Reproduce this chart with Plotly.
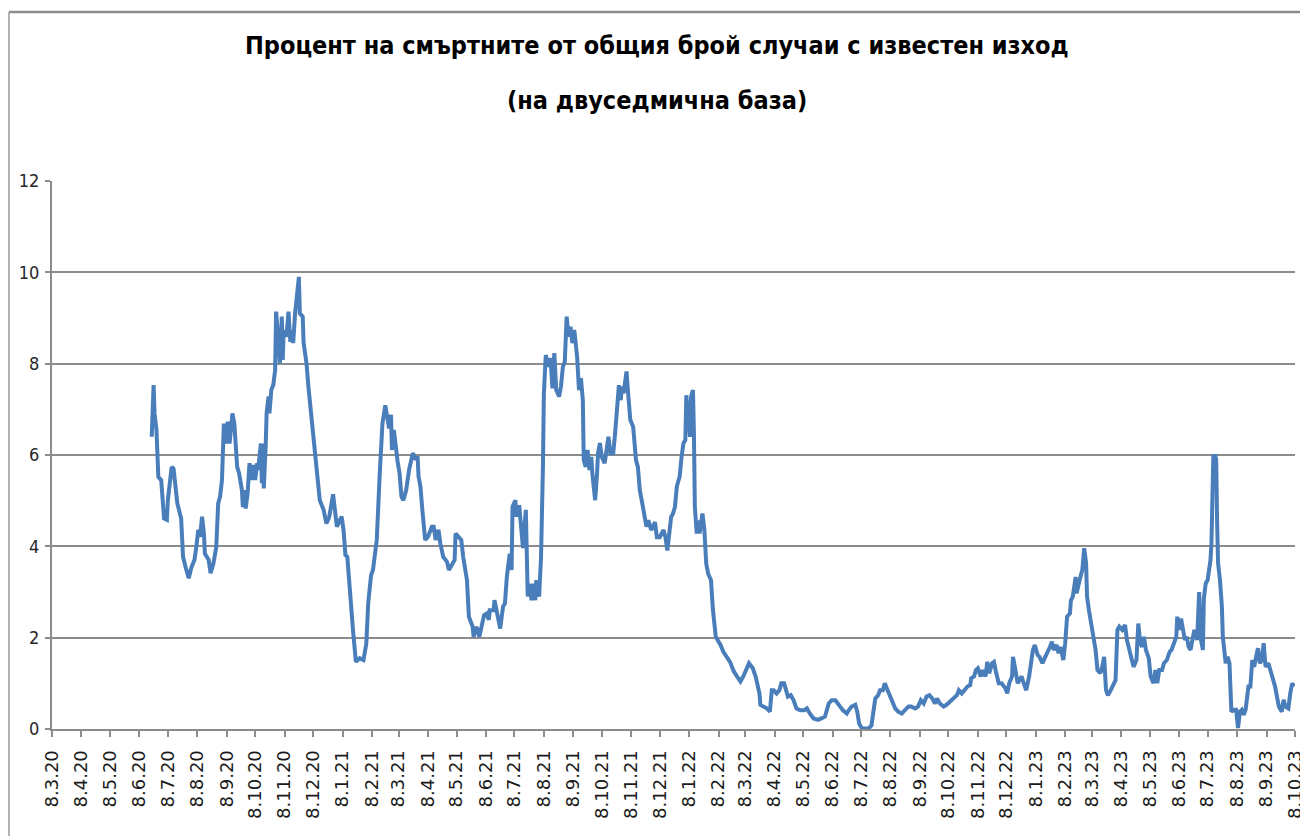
import pandas as pd
import plotly.graph_objects as go

title_line1 = "Процент на смъртните от общия брой случаи с известен изход"
title_line2 = "(на двуседмична база)"

axis_start = "2020-03-08"
axis_end = "2023-10-08"

# days since 8.3.2020 (date axis origin)
day_number = [
    105, 107, 108, 110, 112, 115, 118, 121, 122, 126,
    128, 131, 132, 136, 137, 138, 141, 144, 147, 150,
    152, 154, 156, 158, 160, 161, 165, 167, 170, 173,
    175, 177, 179, 180, 181, 183, 185, 187, 190, 192,
    195, 197, 200, 201, 202, 204, 206, 208, 210, 212,
    214, 216, 217, 220, 221, 222, 223, 225, 226, 228,
    229, 231, 233, 235, 236, 238, 240, 242, 243, 244,
    247, 249, 251, 253, 254, 256, 258, 260, 261, 264,
    265, 268, 270, 273, 277, 279, 282, 286, 289, 292,
    295, 296, 300, 305, 307, 309, 311, 313, 316, 317,
    320, 324, 328, 331, 333, 336, 338, 342, 345, 346,
    348, 351, 353, 355, 357, 358, 360, 362, 364, 366,
    368, 370, 373, 376, 380, 383, 385, 386, 388, 390,
    393, 396, 400, 402, 404, 407, 409, 412, 416, 418,
    422, 424, 425, 428, 431, 433, 437, 439, 443, 444,
    447, 450, 452, 455, 458, 460, 461, 465, 466, 469,
    472, 475, 477, 479, 482, 484, 485, 488, 489, 492,
    494, 496, 497, 499, 501, 503, 505, 507, 509, 510,
    513, 515, 517, 518, 520, 523, 525, 527, 529, 531,
    534, 536, 538, 540, 542, 544, 546, 548, 550, 553,
    555, 557, 559, 560, 562, 564, 566, 568, 569, 572,
    574, 575, 577, 579, 582, 584, 586, 588, 591, 593,
    595, 597, 599, 600, 602, 605, 607, 609, 612, 615,
    617, 619, 621, 624, 626, 628, 631, 633, 635, 637,
    640, 644, 646, 648, 650, 652, 654, 656, 658, 661,
    663, 665, 667, 668, 670, 672, 673, 675, 676, 677,
    679, 681, 682, 685, 687, 689, 691, 694, 696, 699,
    702, 704, 707, 711, 714, 718, 721, 725, 728, 732,
    734, 738, 741, 745, 746, 749, 753, 756, 758, 760,
    763, 766, 768, 771, 773, 775, 778, 781, 784, 788,
    792, 795, 798, 802, 807, 811, 814, 818, 821, 825,
    827, 830, 833, 837, 839, 842, 846, 848, 850, 853,
    856, 860, 863, 865, 867, 870, 872, 875, 877, 880,
    882, 885, 888, 891, 895, 898, 902, 905, 909, 912,
    915, 918, 921, 924, 927, 930, 932, 935, 939, 942,
    946, 949, 953, 955, 958, 961, 964, 967, 968, 971,
    973, 975, 978, 980, 983, 985, 987, 990, 992, 994,
    997, 1000, 1004, 1006, 1008, 1011, 1012, 1014, 1017, 1019,
    1021, 1024, 1026, 1029, 1031, 1033, 1035, 1038, 1040, 1043,
    1046, 1048, 1051, 1053, 1055, 1058, 1060, 1062, 1065, 1067,
    1069, 1072, 1073, 1075, 1078, 1079, 1081, 1083, 1085, 1087,
    1089, 1090, 1092, 1095, 1097, 1099, 1101, 1104, 1106, 1108,
    1110, 1112, 1115, 1118, 1120, 1122, 1124, 1127, 1130, 1132,
    1134, 1137, 1139, 1142, 1144, 1146, 1148, 1150, 1152, 1155,
    1157, 1160, 1162, 1164, 1166, 1169, 1171, 1174, 1177, 1179,
    1182, 1184, 1185, 1187, 1189, 1191, 1193, 1195, 1197, 1199,
    1201, 1203, 1206, 1208, 1210, 1212, 1213, 1215, 1217, 1220,
    1221, 1222, 1223, 1225, 1226, 1227, 1228, 1230, 1232, 1233,
    1236, 1238, 1240, 1242, 1245, 1247, 1249, 1251, 1253, 1255,
    1257, 1260, 1262, 1264, 1266, 1268, 1270, 1272, 1274, 1276,
    1278, 1281, 1283, 1285, 1288, 1290, 1292, 1295, 1297, 1299,
    1302, 1304, 1306, 1308,
]

death_pct = [
    6.40, 7.53, 6.91, 6.55, 5.52, 5.45, 4.61, 4.58, 5.01, 5.74,
    5.70, 5.16, 4.94, 4.61, 4.28, 3.77, 3.52, 3.30, 3.55, 3.70,
    3.99, 4.36, 4.21, 4.65, 4.28, 3.84, 3.70, 3.41, 3.63, 3.99,
    4.94, 5.09, 5.45, 6.03, 6.69, 6.25, 6.73, 6.25, 6.91, 6.69,
    5.74, 5.60, 5.23, 4.86, 5.23, 4.83, 5.16, 5.82, 5.45, 5.78,
    5.45, 5.82, 5.67, 6.25, 5.38, 6.25, 5.27, 6.18, 6.91, 7.28,
    6.91, 7.43, 7.53, 7.86, 9.14, 8.60, 8.01, 9.03, 8.08, 8.73,
    8.59, 9.14, 8.48, 8.73, 8.45, 9.10, 9.61, 9.90, 9.10, 9.03,
    8.45, 8.01, 7.50, 6.91, 6.18, 5.67, 5.01, 4.80, 4.50, 4.65,
    5.09, 5.14, 4.43, 4.65, 4.36, 3.81, 3.77, 3.12, 2.31, 2.16,
    1.47, 1.55, 1.51, 1.87, 2.75, 3.37, 3.48, 4.14, 5.53, 5.82,
    6.69, 7.09, 6.77, 6.58, 6.88, 6.11, 6.55, 6.11, 5.85, 5.60,
    5.09, 5.01, 5.23, 5.67, 6.04, 5.90, 5.97, 5.53, 5.31, 4.80,
    4.14, 4.21, 4.43, 4.43, 4.14, 4.36, 4.06, 3.77, 3.66, 3.48,
    3.63, 3.70, 4.28, 4.21, 4.14, 3.77, 3.26, 2.46, 2.24, 2.02,
    2.24, 2.02, 2.24, 2.49, 2.53, 2.39, 2.60, 2.60, 2.82, 2.53,
    2.20, 2.68, 2.75, 3.33, 3.84, 3.48, 4.87, 5.01, 4.65, 4.90,
    4.36, 3.96, 4.28, 4.80, 2.90, 3.18, 2.82, 3.18, 2.82, 3.26,
    2.90, 3.77, 5.74, 7.35, 8.19, 7.93, 8.12, 7.46, 8.23, 7.42,
    7.28, 7.50, 7.93, 8.04, 9.03, 8.59, 8.81, 8.45, 8.74, 8.15,
    7.42, 7.68, 7.20, 5.89, 5.74, 6.11, 5.67, 5.96, 5.60, 5.01,
    5.60, 6.04, 6.26, 5.96, 5.82, 6.18, 6.40, 6.04, 6.04, 6.47,
    7.06, 7.53, 7.20, 7.50, 7.35, 7.83, 7.28, 6.77, 6.62, 5.89,
    5.74, 5.23, 5.01, 4.72, 4.43, 4.57, 4.36, 4.43, 4.53, 4.20,
    4.20, 4.36, 4.20, 3.91, 4.28, 4.64, 4.72, 4.86, 5.31, 5.53,
    5.96, 6.26, 6.33, 7.31, 6.84, 6.40, 7.28, 7.42, 6.47, 4.86,
    4.28, 4.57, 4.28, 4.72, 4.36, 3.62, 3.40, 3.26, 2.61, 2.02,
    1.91, 1.84, 1.69, 1.58, 1.47, 1.26, 1.15, 1.04, 1.15, 1.33,
    1.44, 1.33, 1.15, 0.78, 0.53, 0.49, 0.45, 0.38, 0.85, 0.85,
    0.78, 0.85, 1.00, 1.00, 0.85, 0.71, 0.74, 0.63, 0.45, 0.41,
    0.41, 0.45, 0.34, 0.23, 0.20, 0.23, 0.27, 0.56, 0.63, 0.63,
    0.56, 0.49, 0.41, 0.34, 0.41, 0.49, 0.53, 0.38, 0.12, 0.01,
    0.01, 0.01, 0.08, 0.34, 0.67, 0.74, 0.85, 0.85, 1.00, 0.85,
    0.74, 0.60, 0.45, 0.38, 0.34, 0.41, 0.49, 0.49, 0.45, 0.49,
    0.63, 0.56, 0.71, 0.74, 0.67, 0.56, 0.67, 0.56, 0.49, 0.53,
    0.60, 0.67, 0.74, 0.85, 0.78, 0.85, 0.93, 0.96, 1.11, 1.15,
    1.29, 1.33, 1.15, 1.29, 1.15, 1.47, 1.22, 1.44, 1.47, 1.26,
    1.00, 1.00, 0.89, 0.78, 1.00, 1.15, 1.58, 1.36, 1.00, 1.07,
    1.15, 0.96, 0.85, 1.15, 1.44, 1.73, 1.84, 1.62, 1.58, 1.44,
    1.58, 1.66, 1.80, 1.91, 1.73, 1.84, 1.66, 1.80, 1.51, 1.88,
    2.46, 2.53, 2.82, 2.90, 3.33, 2.97, 3.19, 3.33, 3.48, 3.96,
    3.63, 2.90, 2.60, 2.24, 2.09, 1.73, 1.29, 1.22, 1.36, 1.58,
    0.85, 0.74, 0.85, 0.96, 1.07, 2.17, 2.24, 2.17, 2.28, 1.95,
    1.80, 1.55, 1.36, 1.51, 2.31, 1.88, 1.80, 2.02, 1.73, 1.55,
    1.15, 1.00, 1.29, 1.00, 1.29, 1.29, 1.44, 1.51, 1.69, 1.73,
    1.88, 2.02, 2.46, 2.17, 2.42, 2.17, 1.95, 2.02, 1.80, 1.73,
    2.02, 2.17, 1.95, 3.00, 1.95, 1.73, 2.86, 3.19, 3.26, 3.70,
    4.07, 5.00, 5.98, 5.98, 5.90, 4.50, 3.63, 3.26, 2.68, 2.02,
    1.44, 1.58, 1.44, 0.38, 0.42, 0.42, 0.02, 0.38, 0.42, 0.31,
    0.42, 0.93, 0.93, 1.51, 1.36, 1.58, 1.77, 1.44, 1.51, 1.88,
    1.36, 1.44, 1.26, 1.15, 0.93, 0.64, 0.49, 0.38, 0.64, 0.49,
    0.45, 0.78, 1.00, 0.93,
]

tick_dates = pd.date_range(axis_start, axis_end, freq=pd.DateOffset(months=1))
tick_labels = [f"{d.day}.{d.month}.{d.year % 100:02d}" for d in tick_dates]

dates = pd.Timestamp(axis_start) + pd.to_timedelta(day_number, unit="D")

GRID = "#8c8c8c"
LINE_BLUE = "#4a7ebb"
NARROW = "Liberation Sans Narrow, DejaVu Sans Condensed, DejaVu Sans"

fig = go.Figure()
fig.add_trace(go.Scatter(
    x=dates, y=death_pct, mode="lines",
    line=dict(color=LINE_BLUE, width=4),
    hoverinfo="x+y", showlegend=False,
))

# the page body adds an 8px offset, so the figure is 8px smaller than the window
fig.update_layout(
    width=1300, height=828, autosize=False,
    paper_bgcolor="white", plot_bgcolor="white",
    margin=dict(l=44, r=13, t=173, b=107, pad=0),
    xaxis=dict(
        type="date", range=[axis_start, axis_end], automargin=False,
        tickmode="array", tickvals=tick_dates, ticktext=tick_labels,
        tickangle=-90, ticks="outside", ticklen=6, tickcolor=GRID, tickwidth=1.5,
        showgrid=False, showline=True, linecolor=GRID, linewidth=2,
        tickfont=dict(family="DejaVu Sans", size=18, color="#1a1a1a"),
        ticklabelstandoff=6,
        zeroline=False,
    ),
    yaxis=dict(
        range=[0, 12], dtick=2, tick0=0, automargin=False,
        showgrid=True, gridcolor=GRID, gridwidth=2,
        showline=True, linecolor=GRID, linewidth=2,
        ticks="outside", ticklen=5, tickcolor=GRID, tickwidth=2,
        tickfont=dict(family=NARROW, size=18, color="#262626"),
        ticklabelstandoff=2,
        zeroline=False,
    ),
    annotations=[
        dict(text="<b>" + title_line1 + "</b>", xref="paper", yref="paper",
             x=0.4867, y=1.2464, xanchor="center", yanchor="middle", showarrow=False,
             font=dict(family=NARROW, size=25, color="black")),
        dict(text="<b>" + title_line2 + "</b>", xref="paper", yref="paper",
             x=0.4867, y=1.1478, xanchor="center", yanchor="middle", showarrow=False,
             font=dict(family=NARROW, size=25, color="black")),
    ],
    shapes=[
        dict(type="line", xref="paper", yref="paper", x0=-0.0346, x1=1.1, y0=1.3084, y1=1.3084,
             line=dict(color="#8c8c8c", width=2.5)),
        dict(type="line", xref="paper", yref="paper", x0=-0.0346, x1=-0.0346, y0=-0.3, y1=1.3084,
             line=dict(color="#9a9a9a", width=1.5)),
    ],
)

fig.write_html("out.html")
